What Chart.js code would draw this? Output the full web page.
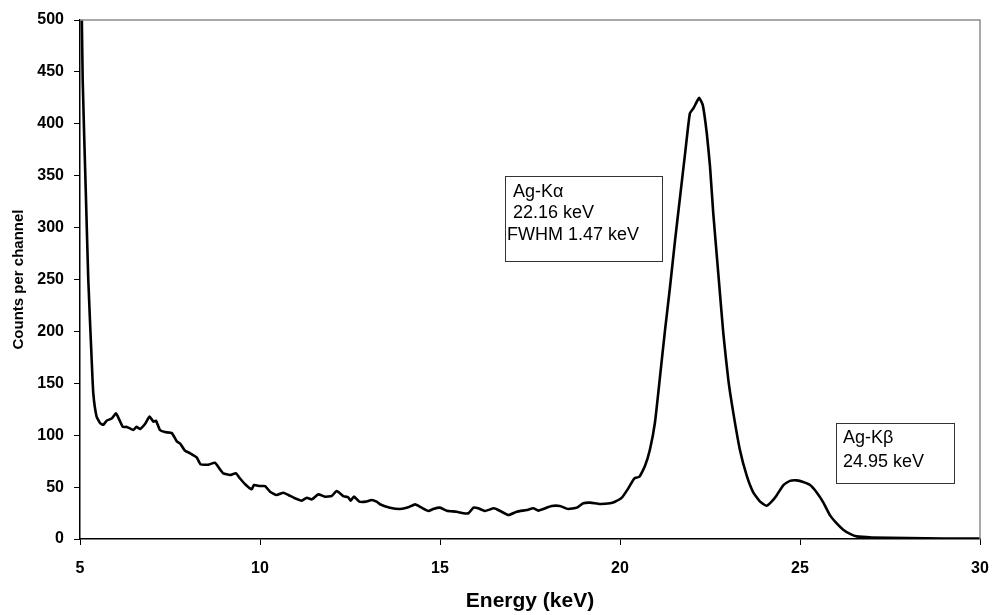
<!DOCTYPE html>
<html>
<head>
<meta charset="utf-8">
<script src="https://cdn.jsdelivr.net/npm/chart.js@4.4.1/dist/chart.umd.min.js"></script>
<style>
  html, body { margin: 0; padding: 0; background: #fff; }
  #wrap { width: 995px; height: 615px; position: relative; }
</style>
</head>
<body>
<div id="wrap"><canvas id="c" width="995" height="615"></canvas></div>
<script>
// ---- data ----
const energy = [5.02, 5.075, 5.167, 5.23, 5.325, 5.37, 5.46, 5.56, 5.65, 5.74, 5.88, 6.0, 6.09, 6.19, 6.30, 6.48, 6.57, 6.67, 6.81, 6.93, 7.04, 7.11, 7.22, 7.36, 7.55, 7.69, 7.78, 7.92, 8.06, 8.24, 8.35, 8.56, 8.75, 8.87, 8.98, 9.17, 9.33, 9.44, 9.58, 9.77, 9.83, 10.0, 10.14, 10.28, 10.46, 10.65, 10.79, 10.97, 11.16, 11.3, 11.44, 11.62, 11.8, 11.99, 12.13, 12.31, 12.45, 12.52, 12.61, 12.76, 12.94, 13.1, 13.24, 13.33, 13.61, 13.89, 14.12, 14.31, 14.49, 14.68, 14.81, 15.0, 15.19, 15.46, 15.65, 15.79, 15.93, 16.06, 16.25, 16.5, 16.67, 16.9, 17.13, 17.41, 17.59, 17.73, 17.87, 18.1, 18.33, 18.56, 18.8, 18.98, 19.17, 19.44, 19.72, 19.86, 20.05, 20.23, 20.4, 20.54, 20.69, 20.83, 20.97, 21.11, 21.25, 21.39, 21.53, 21.67, 21.81, 21.94, 22.04, 22.13, 22.2, 22.3, 22.41, 22.5, 22.59, 22.73, 22.87, 23.01, 23.15, 23.33, 23.52, 23.7, 23.89, 24.07, 24.21, 24.35, 24.54, 24.72, 24.91, 25.09, 25.28, 25.46, 25.65, 25.83, 26.02, 26.2, 26.39, 26.57, 27.0, 28.0, 29.0, 30.0];
const counts = [580, 442, 327, 250, 172, 140, 118, 111.5, 110, 114, 116, 121, 115, 108, 108, 105, 108, 106, 111, 118, 113, 114, 105, 103, 102, 94, 92, 85, 82.6, 78.7, 72, 71.6, 73.5, 68, 63.3, 61.7, 63.3, 58.5, 53, 47.9, 52, 51, 51, 45.6, 42.4, 44.6, 42.4, 39.2, 36.9, 39.8, 38.2, 43, 40.8, 41.4, 46.2, 41.4, 40.2, 36.9, 40.8, 36, 36, 37.6, 36, 33.5, 30.2, 28.9, 30.5, 33.4, 30.2, 27, 28.9, 30.2, 27.3, 26.3, 24.8, 24.8, 30.2, 29.6, 27, 29.6, 27, 23.1, 26.3, 27.9, 29.6, 27.3, 28.9, 31.8, 31.8, 28.9, 30.2, 34.4, 35, 33.7, 34.4, 35.9, 39.8, 48.8, 58.5, 60, 70, 86, 112, 156, 201, 243, 288, 330, 372, 410, 415, 421, 425, 418, 391, 359, 314, 256, 198, 153, 121, 86, 61, 45, 36, 32, 36, 42, 52, 56, 56.5, 55, 52, 45, 35, 23, 15, 9, 5, 2.5, 1.5, 0.8, 0.5, 0.4];
const xTicks = [5, 10, 15, 20, 25, 30];
const yTicks = [0, 50, 100, 150, 200, 250, 300, 350, 400, 450, 500];
const kAlphaLines = ['Ag-K\u03b1', '22.16 keV', 'FWHM 1.47 keV'];
const kBetaLines = ['Ag-K\u03b2', '24.95 keV'];
const xTitle = 'Energy (keV)';
const yTitle = 'Counts per channel';

const FONT = '"Liberation Sans", Arial, Helvetica, sans-serif';

const points = energy.map((e, i) => ({ x: e, y: counts[i] }));

const frameAndNotes = {
  id: 'frameAndNotes',
  afterDraw(chart) {
    const ctx = chart.ctx;
    const a = chart.chartArea;
    ctx.save();
    // grey top and right frame
    ctx.strokeStyle = '#8c8c8c';
    ctx.lineWidth = 1.5;
    ctx.beginPath();
    ctx.moveTo(a.left, a.top);
    ctx.lineTo(a.right, a.top);
    ctx.lineTo(a.right, a.bottom);
    ctx.stroke();

    function box(x, y, w, h, lines, xs, ys) {
      ctx.fillStyle = '#fff';
      ctx.fillRect(x, y, w, h);
      ctx.strokeStyle = '#333';
      ctx.lineWidth = 1;
      ctx.strokeRect(x + 0.5, y + 0.5, w, h);
      ctx.fillStyle = '#000';
      ctx.font = '18px ' + FONT;
      ctx.textBaseline = 'middle';
      ctx.textAlign = 'left';
      lines.forEach((t, i) => ctx.fillText(t, xs[i], ys[i]));
    }
    box(505, 176, 157, 85, kAlphaLines, [513, 513, 507], [192, 213, 235]);
    box(836, 423, 118, 60, kBetaLines, [843, 843], [438, 462]);
    ctx.restore();
  }
};

new Chart(document.getElementById('c'), {
  type: 'line',
  data: {
    datasets: [{
      data: points,
      borderColor: '#000',
      borderWidth: 2.6,
      pointRadius: 0,
      tension: 0.15,
      fill: false
    }]
  },
  options: {
    responsive: false,
    animation: false,
    events: [],
    layout: { padding: { top: 20, right: 15, left: 0, bottom: 0 } },
    plugins: { legend: { display: false }, tooltip: { enabled: false } },
    scales: {
      x: {
        type: 'linear',
        min: 5, max: 30,
        afterBuildTicks: s => { s.ticks = xTicks.map(v => ({ value: v })); },
        afterFit: s => { s.height = 76; s.paddingLeft = 0; s.paddingRight = 0; },
        ticks: { color: '#000', font: { family: FONT, size: 16, weight: 'bold' }, padding: 14, maxRotation: 0 },
        grid: { display: true, drawOnChartArea: false, drawTicks: true, tickLength: 6, color: '#000', lineWidth: 1 },
        border: { display: true, color: '#000', width: 1.5 },
        title: { display: true, text: xTitle, color: '#000', font: { family: FONT, size: 21, weight: 'bold' }, padding: { top: 0, bottom: 1 } }
      },
      y: {
        type: 'linear',
        min: 0, max: 500,
        afterBuildTicks: s => { s.ticks = yTicks.map(v => ({ value: v })); },
        afterFit: s => { s.width = 80; },
        ticks: { color: '#000', font: { family: FONT, size: 16, weight: 'bold' }, padding: 10 },
        grid: { display: true, drawOnChartArea: false, drawTicks: true, tickLength: 6, color: '#000', lineWidth: 1 },
        border: { display: true, color: '#000', width: 1.5 },
        title: { display: true, text: yTitle, color: '#000', font: { family: FONT, size: 15, weight: 'bold' }, padding: { top: 10, bottom: 0 } }
      }
    }
  },
  plugins: [frameAndNotes]
});
</script>
</body>
</html>
